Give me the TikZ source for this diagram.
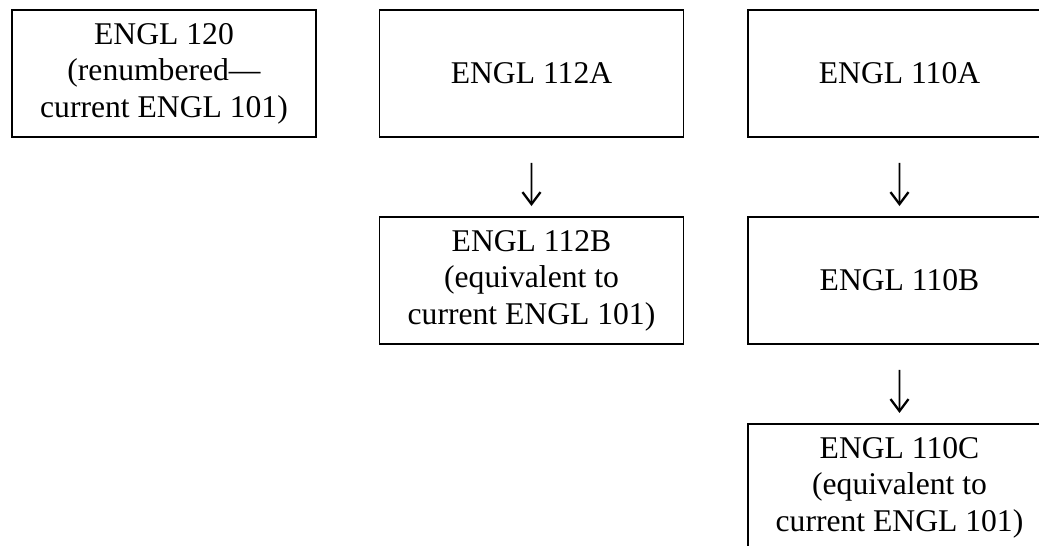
\documentclass[tikz,border=0pt]{standalone}
\usepackage{fontspec}
\setmainfont{Liberation Serif}
\usetikzlibrary{arrows.meta}

\tikzset{
  course/.style={draw, line width=1.1pt, minimum width=6.08cm, minimum height=2.54cm,
                 inner sep=0pt, align=center, font=\fontsize{18pt}{20.8pt}\selectfont},
  flow/.style={draw, line width=1pt, -{Straight Barb[length=2.4mm,width=3.6mm,line width=1.3pt]},
               shorten <=0.5cm, shorten >=0.2cm}
}

\begin{document}
\begin{tikzpicture}[x=0.02cm, y=-0.02cm,
                    level distance=4.14cm,
                    every node/.style={course},
                    edge from parent/.style={flow}]
  \useasboundingbox (0,0) rectangle (1039,545);
  \clip (0,0) rectangle (1039,545);
  % renumbered course
  \node (e120) at (164,73.5) {ENGL 120\\(renumbered---\\current ENGL 101)};
  % two-semester stretch
  \node (e112a) at (531.5,73.5) {ENGL 112A}
    child {
      node (e112b) {ENGL 112B\\(equivalent to\\current ENGL 101)}
    };
  % three-semester stretch
  \node (e110a) at (899.5,73.5) {ENGL 110A}
    child {
      node (e110b) {ENGL 110B}
      child {
        node (e110c) {ENGL 110C\\(equivalent to\\current ENGL 101)}
      }
    };
\end{tikzpicture}
\end{document}
